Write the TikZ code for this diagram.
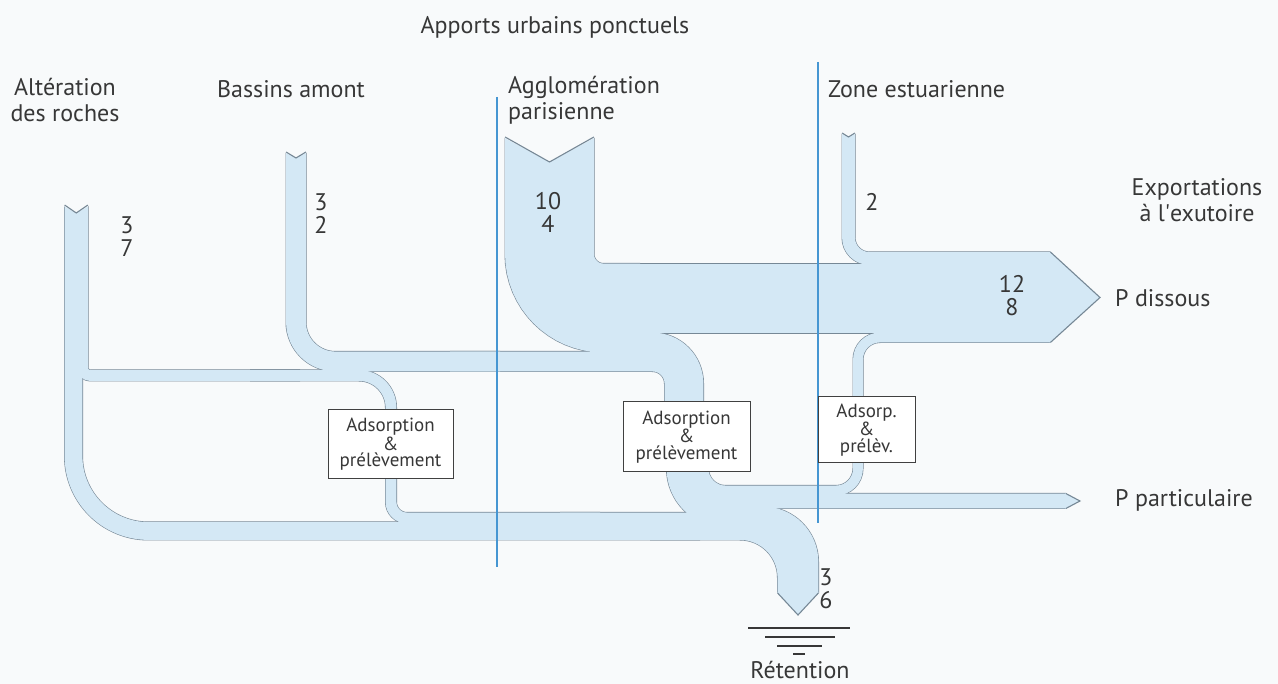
\documentclass[tikz,border=0pt]{standalone}
\usepackage{fontspec}
\setmainfont{PT Sans}
\definecolor{bg}{RGB}{248,250,251}
\definecolor{fl}{RGB}{212,232,245}
\definecolor{ol}{RGB}{118,136,150}
\definecolor{zl}{RGB}{70,150,210}
\definecolor{tx}{RGB}{55,55,55}
\newcommand\flowbands[1]{%
  % Alteration des roches, main flow
  \draw[#1=17, rounded corners=75pt] (73.5,205) -- (73.5,531) -- (700,531);
  \draw[#1=17, rounded corners=46.5pt] (650,531) -- (786.5,531) -- (786.5,593);
  % Alteration branch
  \draw[#1=10, rounded corners=8pt] (82.5,205) -- (82.5,375.5) -- (300,375.5);
  \draw[#1=10, rounded corners=32pt] (250,375.5) -- (391,375.5) -- (391,440);
  \draw[#1=10, rounded corners=16pt] (391,430) -- (391,518) -- (600,518);
  \draw[#1=10, rounded corners=59.5pt] (560,518) -- (799.5,518) -- (799.5,593);
  % Bassins amont
  \draw[#1=19, rounded corners=39.5pt] (296,152) -- (296,361.5) -- (500,361.5);
  \draw[#1=19, rounded corners=22pt] (450,361.5) -- (674.5,361.5) -- (674.5,440);
  % Agglomeration parisienne
  \draw[#1=88, rounded corners=54pt] (549.5,137) -- (549.5,308) -- (640,308);
  \draw[#1=19, rounded corners=41pt] (590,342.5) -- (693.5,342.5) -- (693.5,440);
  % dissolved export
  \draw[#1=69] (600,298.5) -- (1050.5,298.5);
  % zone estuarienne input
  \draw[#1=12, rounded corners=21pt] (848.5,133) -- (848.5,258.5) -- (1050.5,258.5);
  % outputs of the middle box
  \draw[#1=9, rounded corners=22pt] (703.5,440) -- (703.5,490.5) -- (858,490.5) -- (858,337.5) -- (1050.5,337.5);
  \draw[#1=14, rounded corners=32.5pt] (693,440) -- (693,501) -- (1066,501);
  \draw[#1=20, rounded corners=48.5pt] (677,440) -- (677,517) -- (770,517);
  \draw[#1=20, rounded corners=45pt] (740,517) -- (808,517) -- (808,593);
}
\begin{document}
\begin{tikzpicture}[x=1pt,y=-1pt,
  oln/.style={line width={(#1+2.0)*1pt}, draw=ol, line cap=butt},
  fln/.style={line width={(#1+0.8)*1pt}, draw=fl, line cap=butt},
  edge/.style={draw=ol, line width=1.1pt, line join=miter},
  zone/.style={draw=zl, line width=1.2pt},
  lbl/.style={font=\fontsize{24}{26}\selectfont, text=tx, inner sep=0pt, align=center},
  num/.style={font=\fontsize{24}{23}\selectfont, text=tx, inner sep=0pt, align=center},
  boxn/.style={draw=black!75, line width=1pt, fill=white, text=tx,
    font=\fontsize{19}{16.5}\selectfont, align=center, inner sep=0pt},
  gnd/.style={draw=tx, line width=1.6pt}]
\useasboundingbox (0,0) rectangle (1278,684);
\fill[bg] (0,0) rectangle (1278,684);
% bands: outlines first, then fills
\flowbands{oln}
\flowbands{fln}
% notched starts
\fill[bg] (62,203) -- (90.5,203) -- (90.5,205) -- (76.25,213) -- (62,205) -- cycle;
\draw[edge] (64.6,205) -- (76.25,213) -- (87.9,205);
\fill[bg] (284,150) -- (308,150) -- (308,152) -- (296,158) -- (284,152) -- cycle;
\draw[edge] (286.1,152) -- (296,158) -- (305.9,152);
\fill[bg] (503,135) -- (596,135) -- (596,137) -- (549.5,162) -- (503,137) -- cycle;
\draw[edge] (505.1,137) -- (549.5,162) -- (593.9,137);
\fill[bg] (840,131) -- (857,131) -- (857,133) -- (848.5,137) -- (840,133) -- cycle;
\draw[edge] (842.1,133) -- (848.5,137) -- (854.9,133);
% arrow heads
\fill[fl] (1049.5,252.1) -- (1050.5,252.1) -- (1100,297.5) -- (1050.5,342.4) -- (1049.5,342.4) -- cycle;
\draw[edge] (1050.5,252.1) -- (1100,297.5) -- (1050.5,342.4);
\fill[fl] (1065,493.6) -- (1066,493.6) -- (1080,501) -- (1066,508.4) -- (1065,508.4) -- cycle;
\draw[edge] (1066,493.6) -- (1080,501) -- (1066,508.4);
\fill[fl] (777.6,592) -- (818.4,592) -- (818.4,593) -- (798,615) -- (777.6,593) -- cycle;
\draw[edge] (777.6,593) -- (798,615) -- (818.4,593);
% zone lines
\draw[zone] (497,97) -- (497,567);
\draw[zone] (818,62) -- (818,523);
% boxes
\node[boxn, minimum width=125pt, minimum height=69pt] (box1) at (390.5,444.5) {Adsorption\\\&\\prélèvement};
\node[boxn, minimum width=127pt, minimum height=70pt] (box2) at (686.5,437) {Adsorption\\\&\\prélèvement};
\node[boxn, minimum width=97pt, minimum height=66pt] (box3) at (866.5,430) {Adsorp.\\\&\\prélèv.};
% labels
\node[lbl] (apports) at (555,27) {Apports urbains ponctuels};
\node[lbl] (alter) at (65,100) {Altération\\des roches};
\node[lbl] (bassins) at (291,89) {Bassins amont};
\node[lbl, anchor=west, align=left] (agglo) at (508,100) {Agglomération\\parisienne};
\node[lbl, anchor=west] (zone) at (828,89) {Zone estuarienne};
\node[lbl] (export) at (1197,200) {Exportations\\à l\textquotesingle exutoire};
\node[lbl, anchor=west] (pdiss) at (1115,298) {P dissous};
\node[lbl, anchor=west] (ppart) at (1115,500) {P particulaire};
\node[lbl] (reten) at (800,670) {Rétention};
% numbers
\node[num] (n1) at (127,237) {3\\7};
\node[num] (n2) at (321,214) {3\\2};
\node[num] (n3) at (548,212) {10\\4};
\node[num] (n4) at (872,202) {2};
\node[num] (n5) at (1012,296) {12\\8};
\node[num] (n6) at (826,589) {3\\6};
% retention ground symbol
\draw[gnd] (748,628) -- (850,628);
\draw[gnd] (765,637) -- (835,637);
\draw[gnd] (777,646) -- (822,646);
\draw[gnd] (793,654) -- (805,654);
\end{tikzpicture}
\end{document}
